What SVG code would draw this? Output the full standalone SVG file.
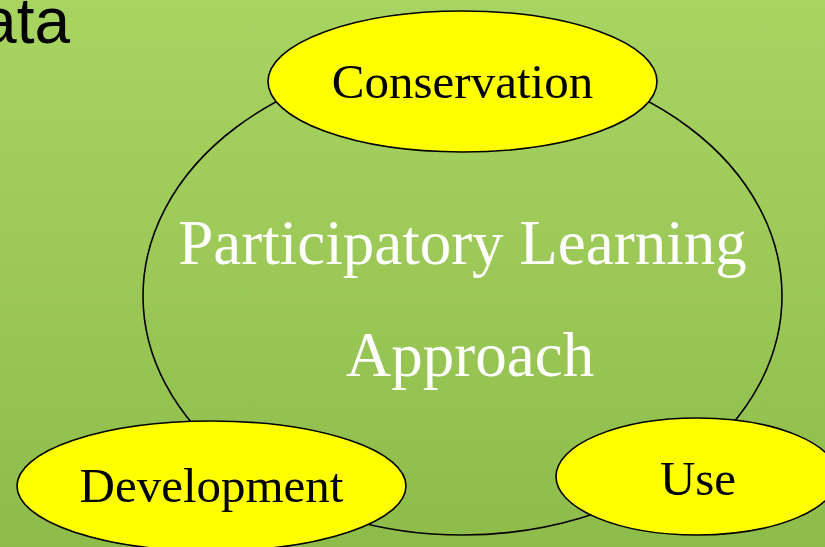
<svg xmlns="http://www.w3.org/2000/svg" width="825" height="547" viewBox="0 0 825 547">
<defs>
<linearGradient id="bg" x1="0" y1="0" x2="0" y2="1">
<stop offset="0" stop-color="#a8d462"/>
<stop offset="1" stop-color="#8ebc4b"/>
</linearGradient>
<style>
.node{fill:#ffff00;stroke:#000;stroke-width:1.6}
.lbl{font-family:"Liberation Serif","Times New Roman",serif;font-size:49px;fill:#000;text-anchor:middle}
.main{font-family:"Liberation Serif","Times New Roman",serif;font-size:63px;fill:#fff;text-anchor:middle}
</style>
</defs>
<rect x="0" y="0" width="825" height="547" fill="url(#bg)"/>
<text x="70" y="43" font-family="Liberation Sans, Arial, sans-serif" font-size="64" fill="#000" text-anchor="end">ata</text>
<g id="connectors">
<ellipse cx="462.5" cy="296" rx="319.5" ry="239" fill="none" stroke="#000" stroke-width="1.6"/>
</g>
<g id="center">
<text class="main" x="462.5" y="264">Participatory Learning</text>
<text class="main" x="470" y="376">Approach</text>
</g>
<g id="conservation">
<ellipse class="node" cx="462.5" cy="81.5" rx="194.5" ry="70.5"/>
<text class="lbl" x="462.5" y="98">Conservation</text>
</g>
<g id="development">
<ellipse class="node" cx="211.5" cy="486" rx="194.5" ry="65"/>
<text class="lbl" x="211.5" y="502">Development</text>
</g>
<g id="use">
<ellipse class="node" cx="697" cy="476.5" rx="141" ry="58.5"/>
<text class="lbl" x="698" y="495">Use</text>
</g>
</svg>
